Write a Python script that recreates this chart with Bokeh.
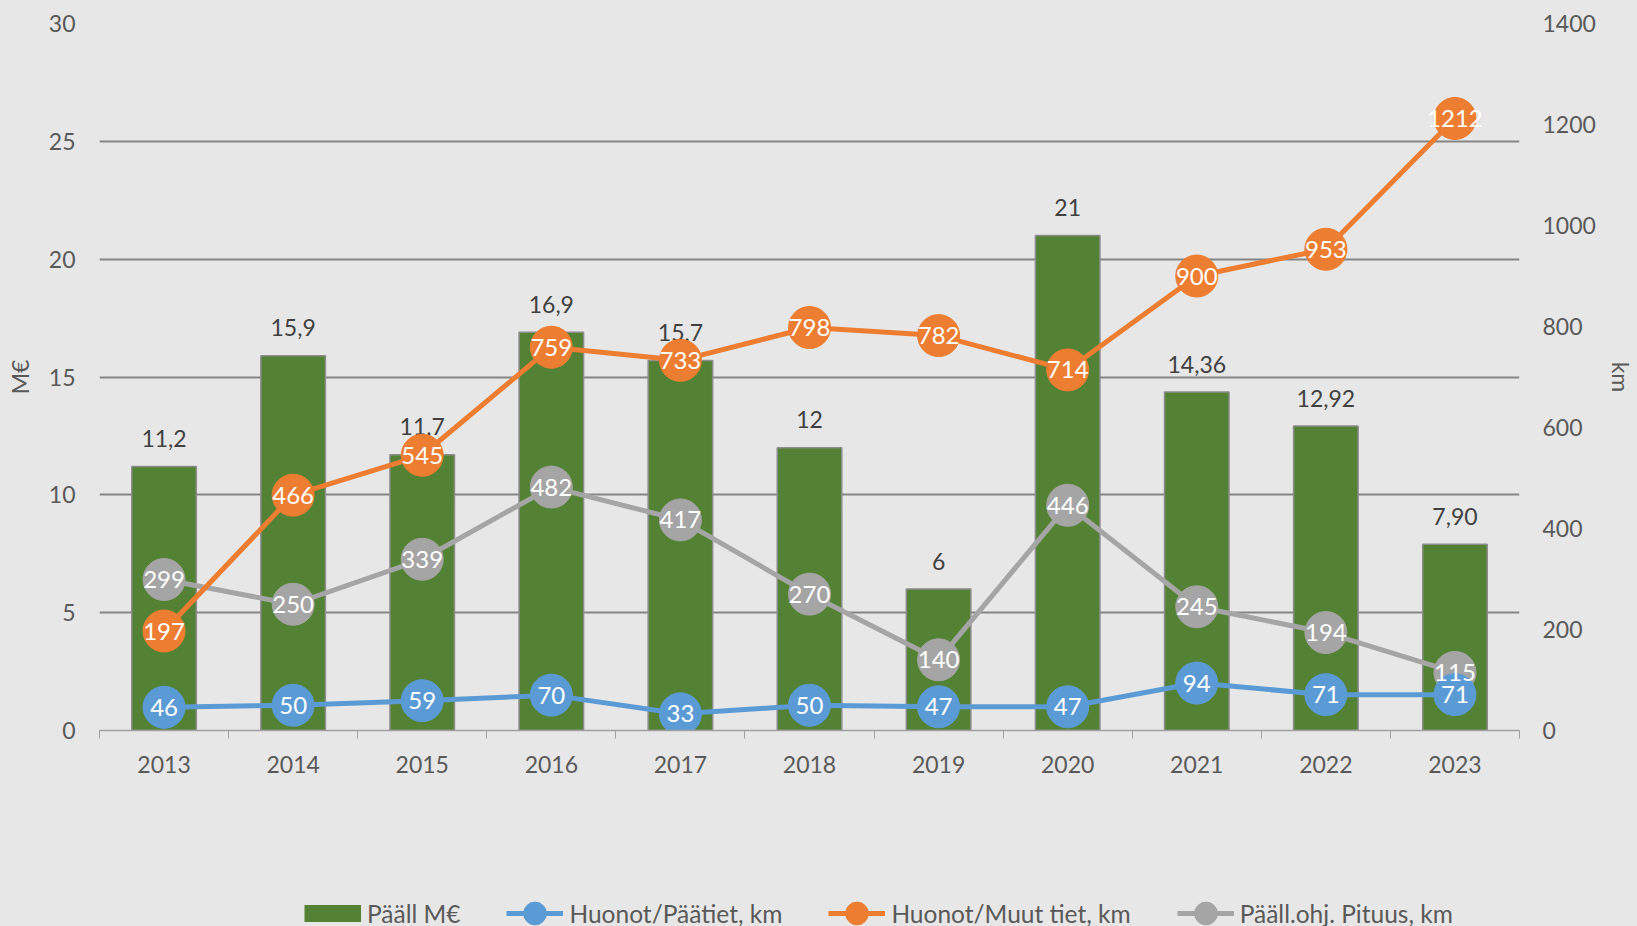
from bokeh.plotting import figure
from bokeh.layouts import column
from bokeh.models import (ColumnDataSource, Range1d, LinearAxis, FixedTicker,
                          Legend, LegendItem)
from bokeh.core.properties import value
from bokeh.embed import file_html
from bokeh.resources import INLINE

years = [2013, 2014, 2015, 2016, 2017, 2018, 2019, 2020, 2021, 2022, 2023]
paall_meur = [11.2, 15.9, 11.7, 16.9, 15.7, 12, 6, 21, 14.36, 12.92, 7.90]
paall_labels = ["11,2", "15,9", "11,7", "16,9", "15,7", "12", "6", "21", "14,36", "12,92", "7,90"]
huonot_paatiet = [46, 50, 59, 70, 33, 50, 47, 47, 94, 71, 71]
huonot_muut = [197, 466, 545, 759, 733, 798, 782, 714, 900, 953, 1212]
paall_pituus = [299, 250, 339, 482, 417, 270, 140, 446, 245, 194, 115]
left_ticks = [0, 5, 10, 15, 20, 25, 30]
right_ticks = [0, 200, 400, 600, 800, 1000, 1200, 1400]
series_names = ["Pääll M€", "Huonot/Päätiet, km", "Huonot/Muut tiet, km", "Pääll.ohj. Pituus, km"]

FONT = "Lato"
FS = "23px"
BG = "#E7E7E7"
TXT = "#595959"
GREEN = "#548235"
BLUE = "#5B9BD5"
ORANGE = "#ED7D31"
GRAY = "#A5A5A5"

src = ColumnDataSource(dict(
    x=years, bar=paall_meur, bar_lbl=paall_labels,
    blue=huonot_paatiet, blue_lbl=[str(v) for v in huonot_paatiet],
    orange=huonot_muut, orange_lbl=[str(v) for v in huonot_muut],
    gray=paall_pituus, gray_lbl=[str(v) for v in paall_pituus],
))

p = figure(width=1637, height=840, output_backend="svg", toolbar_location=None,
           x_range=Range1d(years[0] - 0.5, years[-1] + 0.5),
           y_range=Range1d(0, 30),
           min_border_left=99, min_border_right=118, min_border_top=23, min_border_bottom=110,
           styles={"background-color": BG})
p.extra_y_ranges = {"km": Range1d(0, 1400)}
p.background_fill_color = BG
p.border_fill_color = BG
p.outline_line_color = None

# axes
p.xaxis.ticker = FixedTicker(ticks=years, minor_ticks=[y - 0.5 for y in years] + [years[-1] + 0.5])
p.xaxis.major_tick_line_color = None
p.xaxis.minor_tick_line_color = "#A0A0A0"
p.xaxis.minor_tick_out = 8
p.xaxis.minor_tick_in = 0
p.xaxis.axis_line_color = "#A0A0A0"
p.xaxis.axis_line_width = 1.5
p.xaxis.major_label_standoff = 17
p.xaxis.major_label_text_font = FONT
p.xaxis.major_label_text_font_size = FS
p.xaxis.major_label_text_color = TXT

p.yaxis.ticker = FixedTicker(ticks=left_ticks)
p.yaxis.axis_line_color = None
p.yaxis.major_tick_line_color = None
p.yaxis.major_tick_out = 0
p.yaxis.minor_tick_line_color = None
p.yaxis.minor_tick_out = 0
p.yaxis.major_label_standoff = 24
p.yaxis.major_label_text_font = FONT
p.yaxis.major_label_text_font_size = FS
p.yaxis.major_label_text_color = TXT
p.yaxis.axis_label = "M€"
p.yaxis.axis_label_text_font = FONT
p.yaxis.axis_label_text_font_size = FS
p.yaxis.axis_label_text_font_style = "normal"
p.yaxis.axis_label_text_color = TXT
p.yaxis.axis_label_standoff = 12

ax2 = LinearAxis(y_range_name="km", ticker=FixedTicker(ticks=right_ticks))
ax2.axis_line_color = None
ax2.major_tick_line_color = None
ax2.major_tick_out = 0
ax2.minor_tick_line_color = None
ax2.minor_tick_out = 0
ax2.major_label_standoff = 23
ax2.major_label_text_font = FONT
ax2.major_label_text_font_size = FS
ax2.major_label_text_color = TXT
ax2.axis_label = "km"
ax2.axis_label_text_font = FONT
ax2.axis_label_text_font_size = FS
ax2.axis_label_text_font_style = "normal"
ax2.axis_label_text_color = TXT
ax2.axis_label_standoff = 8
p.add_layout(ax2, "right")

p.xgrid.grid_line_color = None
p.ygrid.grid_line_color = "#858585"
p.ygrid.grid_line_width = 2

# bars
p.vbar(x="x", top="bar", width=0.5, source=src, fill_color=GREEN,
       line_color="#8C8C8C", line_width=1.5)
p.text(x="x", y="bar", text="bar_lbl", source=src, text_align="center",
       text_baseline="middle", y_offset=-28, text_font=value(FONT),
       text_font_size=FS, text_color="#404040")

# lines
for col, color in [("gray", GRAY), ("orange", ORANGE), ("blue", BLUE)]:
    p.line(x="x", y=col, source=src, y_range_name="km", line_color=color, line_width=5)
    p.scatter(x="x", y=col, source=src, y_range_name="km", size=42,
              fill_color=color, line_color=color)

for col in ["gray", "orange", "blue"]:
    p.text(x="x", y=col, text=col + "_lbl", source=src, y_range_name="km",
           text_align="center", text_baseline="middle", text_font=value(FONT),
           text_font_size="24px", text_color="white")

# legend strip below the chart
lp = figure(width=1637, height=86, output_backend="svg", toolbar_location=None,
            x_range=Range1d(0, 1), y_range=Range1d(0, 1),
            x_axis_location=None, y_axis_location=None,
            min_border_left=0, min_border_right=0, min_border_top=0, min_border_bottom=0,
            styles={"background-color": BG})
lp.background_fill_color = BG
lp.border_fill_color = BG
lp.outline_line_color = None
lp.xgrid.visible = False
lp.ygrid.visible = False

nan_src = ColumnDataSource(dict(x=[float("nan")], y=[float("nan")]))
sw_bar = lp.line(x="x", y="y", source=nan_src, line_color=GREEN, line_width=17)
items = [LegendItem(label=series_names[0], renderers=[sw_bar])]
for name, color in zip(series_names[1:], [BLUE, ORANGE, GRAY]):
    ln = lp.line(x="x", y="y", source=nan_src, line_color=color, line_width=5)
    mk = lp.scatter(x="x", y="y", source=nan_src, fill_color=color, line_color=color)
    items.append(LegendItem(label=name, renderers=[ln, mk]))

legend = Legend(items=items, orientation="horizontal", location=(205, -22))
legend.glyph_width = 57
legend.glyph_height = 70
legend.label_height = 70
legend.label_standoff = 6
legend.spacing = 46
legend.padding = 0
legend.margin = 0
legend.border_line_color = None
legend.background_fill_alpha = 0
legend.label_text_font = FONT
legend.label_text_font_size = "24.5px"
legend.label_text_color = TXT
lp.add_layout(legend, "center")

layout = column(p, lp, spacing=0, styles={"background-color": BG})
open("out.html", "w").write(file_html(layout, INLINE))
